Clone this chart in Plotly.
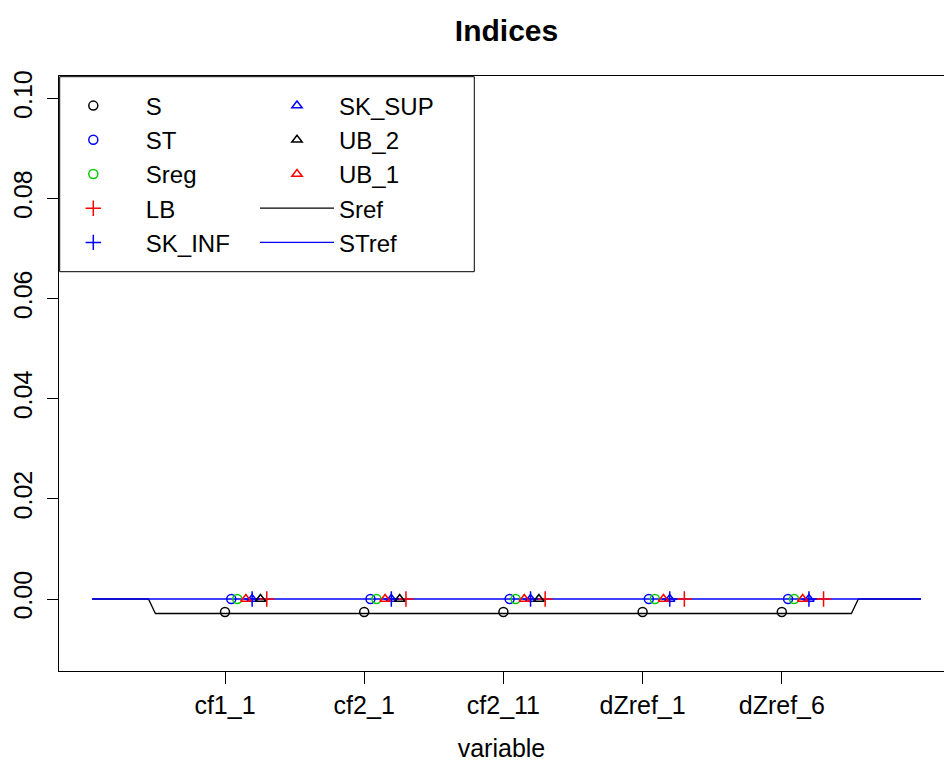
import plotly.graph_objects as go

# ---------------- data ----------------
categories = ["cf1_1", "cf2_1", "cf2_11", "dZref_1", "dZref_6"]
S = [-0.0026, -0.0026, -0.0026, -0.0026, -0.0026]
ST = [0.0, 0.0, 0.0, 0.0, 0.0]
Sreg = [0.0, 0.0, 0.0, 0.0, 0.0]
LB = [0.0, 0.0, 0.0, 0.0, 0.0]
SK_INF = [0.0, 0.0, 0.0, 0.0, 0.0]
SK_SUP = [0.0, 0.0, 0.0, 0.0, 0.0]
UB_2 = [0.0, 0.0, 0.0, None, None]
UB_1 = [0.0, 0.0, 0.0, 0.0, 0.0]
Sref_x = [0.045, 0.45, 0.5, 5.5, 5.55, 6.0]
Sref_y = [0.0, 0.0, -0.0029, -0.0029, 0.0, 0.0]
STref_x = [0.045, 6.0]
STref_y = [0.0, 0.0]
y_ticks = [0.00, 0.02, 0.04, 0.06, 0.08, 0.10]
y_ticklabels = ["0.00", "0.02", "0.04", "0.06", "0.08", "0.10"]

# ---------------- style ----------------
W, H = 944, 762
ML, MT, MB, MR = 59, 76, 91, 0
PW, PH = W - ML - MR, H - MT - MB
FONT = "Liberation Sans, Arial, Helvetica, sans-serif"
BLACK, BLUE, RED, GREEN = "#000000", "#0000FF", "#FF0000", "#00CD00"
DODGE = {"S": 0.0, "ST": 0.045, "Sreg": 0.088, "UB_1": 0.15,
         "SK_SUP": 0.195, "SK_INF": 0.195, "UB_2": 0.255, "LB": 0.30}
pos = list(range(1, len(categories) + 1))

fig = go.Figure()

# reference lines
fig.add_trace(go.Scatter(x=Sref_x, y=Sref_y, mode="lines", name="Sref",
                         line=dict(color=BLACK, width=1.3), legend="legend2"))
fig.add_trace(go.Scatter(x=STref_x, y=STref_y, mode="lines", name="STref",
                         line=dict(color=BLUE, width=1.3), legend="legend2"))

def add_pts(name, vals, symbol, color, size, legend):
    fig.add_trace(go.Scatter(
        x=[p + DODGE[name] for p in pos], y=vals, mode="markers", name=name,
        marker=dict(symbol=symbol, size=size, color=color,
                    line=dict(color=color, width=1.5)),
        legend=legend))

# column 1 of the legend
add_pts("S", S, "circle-open", BLACK, 9, "legend")
add_pts("ST", ST, "circle-open", BLUE, 9, "legend")
add_pts("Sreg", Sreg, "circle-open", GREEN, 9, "legend")
add_pts("LB", LB, "cross-thin-open", RED, 11, "legend")
add_pts("SK_INF", SK_INF, "cross-thin-open", BLUE, 11, "legend")
# column 2 of the legend
add_pts("SK_SUP", SK_SUP, "triangle-up-open", BLUE, 9, "legend2")
add_pts("UB_2", UB_2, "triangle-up-open", BLACK, 9, "legend2")
add_pts("UB_1", UB_1, "triangle-up-open", RED, 9, "legend2")

order2 = ["SK_SUP", "UB_2", "UB_1", "Sref", "STref"]
for tr in fig.data:
    if tr.name in order2:
        tr.legendrank = order2.index(tr.name) + 1

def px_x(p):
    return (p - ML) / PW

def px_y(p):
    return 1 - (p - MT) / PH

LEG_FONT = 24
item_h = LEG_FONT * 1.3 + 3
leg_top = 174 - (5 + 2 * item_h + item_h / 2)

W1, W2 = 95, 74
leg1_left = 93.3 - (W1 + 10) / 2
leg2_left = 297 - (W2 + 10) / 2

common_leg = dict(bgcolor="rgba(0,0,0,0)", borderwidth=0,
                  font=dict(family=FONT, size=LEG_FONT, color=BLACK),
                  xanchor="left", yanchor="top", tracegroupgap=0,
                  itemsizing="trace")

fig.update_layout(
    width=W, height=H,
    margin=dict(l=ML, r=MR, t=MT, b=MB, pad=0, autoexpand=False),
    paper_bgcolor="white", plot_bgcolor="white",
    font=dict(family=FONT, size=25, color=BLACK),
    title=dict(text="<b>Indices</b>", x=506.5 / W, xref="container", xanchor="center",
               y=1 - 30 / H, yref="container", yanchor="middle",
               font=dict(family=FONT, size=30, color=BLACK)),
    legend=dict(x=px_x(leg1_left), y=px_y(leg_top), itemwidth=W1, **common_leg),
    legend2=dict(x=px_x(leg2_left), y=px_y(leg_top), itemwidth=W2, **common_leg),
    xaxis=dict(range=[1 + (ML - 225) / 139.2, 1 + (W - MR - 225) / 139.2],
               automargin=False,
               tickmode="array", tickvals=pos, ticktext=categories,
               showgrid=False, zeroline=False, showline=True, mirror=True,
               linecolor=BLACK, linewidth=1, ticks="outside", ticklen=12,
               tickwidth=1, tickcolor=BLACK, ticklabelstandoff=0,
               tickfont=dict(family=FONT, size=25, color=BLACK),
               title=dict(text="variable", standoff=21,
                          font=dict(family=FONT, size=25, color=BLACK))),
    yaxis=dict(range=[-72 / 5007, (599 - MT) / 5007],
               automargin=False,
               tickmode="array", tickvals=y_ticks, ticktext=y_ticklabels,
               tickangle=-90, showgrid=False, zeroline=False, showline=True,
               mirror=False, linecolor=BLACK, linewidth=1, ticks="outside",
               ticklen=11, tickwidth=1, tickcolor=BLACK, ticklabelstandoff=5,
               tickfont=dict(family=FONT, size=25, color=BLACK)),
    showlegend=True,
)

# legend frame
fig.add_shape(type="rect", xref="paper", yref="paper",
              x0=px_x(59.7), x1=px_x(474.3), y0=px_y(271.7), y1=px_y(76.7),
              line=dict(color=BLACK, width=1), fillcolor="rgba(0,0,0,0)", layer="above")

fig.write_html("out.html")
